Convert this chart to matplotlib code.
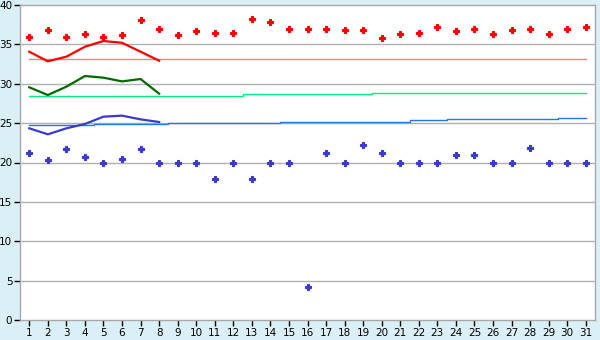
import numpy as np
import matplotlib
matplotlib.use("Agg")
import matplotlib.pyplot as plt

days = np.arange(1, 32)

red_points = [36.0, 36.8, 36.0, 36.3, 36.0, 36.15, 38.05, 37.0, 36.15, 36.65,
              36.4, 36.4, 38.2, 37.8, 37.0, 36.9, 36.9, 36.8, 36.8, 35.8,
              36.3, 36.5, 37.2, 36.65, 37.0, 36.3, 36.8, 37.0, 36.3, 37.0, 37.2]
blue_points = [21.2, 20.3, 21.7, 20.7, 20.0, 20.4, 21.7, 20.0, 20.0, 20.0,
               17.9, 20.0, 17.9, 20.0, 20.0, 4.2, 21.2, 20.0, 22.2, 21.2,
               20.0, 20.0, 20.0, 21.0, 21.0, 20.0, 20.0, 21.8, 20.0, 20.0, 20.0]

curve_days = np.arange(1, 9)
red_curve = [34.07, 32.85, 33.44, 34.7, 35.43, 35.2, 34.07, 32.93]
green_curve = [29.55, 28.57, 29.63, 30.98, 30.77, 30.3, 30.6, 28.74]
blue_curve = [24.34, 23.58, 24.34, 24.89, 25.82, 25.95, 25.48, 25.14]

pink_level = [33.1] * 3 + [33.2] * 28
green_level = [28.4] * 5 + [28.5] * 7 + [28.65] * 7 + [28.8] * 12
blue_level = ([24.75] * 4 + [24.9] * 4 + [25.0] * 6 + [25.1] * 3 + [25.2] * 4
              + [25.35] * 2 + [25.5] * 6 + [25.65] * 2)

fig = plt.figure(figsize=(6, 3.4), dpi=100, facecolor="#daeff6")
ax = fig.add_axes([20 / 600, 20 / 340, 575 / 600, 315 / 340])
ax.set_facecolor("white")

for y in range(5, 40, 5):
    ax.axhline(y, color="#b0b0b0", lw=1, zorder=0)

ax.plot(days, pink_level, drawstyle="steps-mid", color="#ff8080", lw=1)
ax.plot(days, green_level, drawstyle="steps-mid", color="#00f080", lw=1)
ax.plot(days, blue_level, drawstyle="steps-mid", color="#1e7ae8", lw=1)

ax.plot(curve_days, red_curve, color="#ff0000", lw=1.6)
ax.plot(curve_days, green_curve, color="#006a00", lw=1.6)
ax.plot(curve_days, blue_curve, color="#3a3acc", lw=1.6)

ax.plot(days, red_points, "P", color="#ff0000", ms=5, mew=0.8, ls="none")
ax.plot(days, blue_points, "P", color="#3a3acc", ms=5, mew=0.8, ls="none")

ax.set_xlim(0.5, 31.5)
ax.set_ylim(0, 40)
ax.set_xticks(days)
ax.set_yticks(range(0, 45, 5))
ax.tick_params(labelsize=7.5, length=4, width=1, pad=1.5, colors="black")
for s in ax.spines.values():
    s.set_color("#a8a8a8")
    s.set_linewidth(1)

fig.savefig("out.png", dpi=100, facecolor=fig.get_facecolor())
